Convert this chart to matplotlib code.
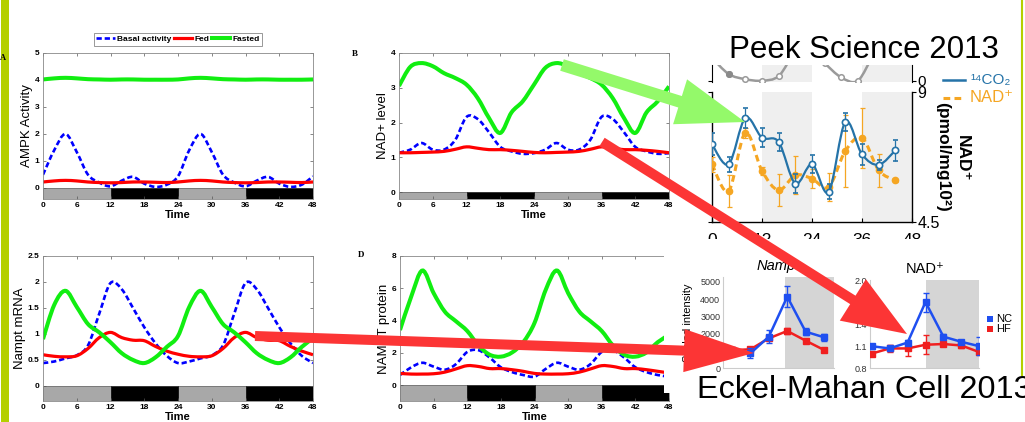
import matplotlib
matplotlib.use("Agg")
import matplotlib.pyplot as plt
from matplotlib.path import Path
from matplotlib.patches import PathPatch, Rectangle, FancyArrow
from matplotlib.lines import Line2D

plt.rcParams["font.family"] = ["Liberation Sans", "DejaVu Sans"]

W, H = 1025, 422

# model panels, values every 2 h
hours = list(range(0, 49, 2))
ampk_basal = [0.49, 1.40, 2.00, 1.33, 0.49, 0.20, 0.06, 0.27, 0.41, 0.16, 0.04, 0.12, 0.43,
              1.40, 2.00, 1.33, 0.49, 0.20, 0.06, 0.27, 0.41, 0.16, 0.04, 0.12, 0.43]
ampk_fed = [0.22, 0.26, 0.28, 0.26, 0.22, 0.20, 0.19, 0.20, 0.22, 0.22, 0.21, 0.20, 0.22,
            0.26, 0.28, 0.26, 0.22, 0.20, 0.19, 0.20, 0.22, 0.22, 0.21, 0.20, 0.22]
ampk_fasted = [4.02, 4.06, 4.08, 4.06, 4.03, 4.02, 4.01, 4.02, 4.02, 4.01, 4.01, 4.01, 4.02,
               4.06, 4.08, 4.06, 4.03, 4.02, 4.01, 4.02, 4.02, 4.01, 4.01, 4.01, 4.02]

nad_basal = [1.13, 1.22, 1.41, 1.22, 1.22, 1.50, 2.16, 2.10, 1.72, 1.30, 1.17, 1.10, 1.12,
             1.22, 1.41, 1.22, 1.22, 1.50, 2.16, 2.10, 1.72, 1.30, 1.17, 1.10, 1.12]
nad_fed = [1.13, 1.13, 1.14, 1.15, 1.17, 1.23, 1.30, 1.26, 1.22, 1.22, 1.20, 1.17, 1.14,
           1.13, 1.14, 1.15, 1.17, 1.23, 1.30, 1.26, 1.22, 1.22, 1.20, 1.17, 1.13]
nad_fasted = [3.05, 3.60, 3.71, 3.62, 3.42, 3.28, 3.09, 2.70, 2.13, 1.70, 2.29, 2.61, 3.09,
              3.57, 3.71, 3.62, 3.42, 3.28, 3.09, 2.70, 2.13, 1.70, 2.29, 2.61, 3.04]

mrna_basal = [0.44, 0.47, 0.53, 0.59, 0.78, 1.39, 1.98, 1.86, 1.50, 1.13, 0.82, 0.58, 0.44,
              0.47, 0.53, 0.59, 0.78, 1.39, 1.98, 1.86, 1.50, 1.13, 0.82, 0.58, 0.44]
mrna_fed = [0.60, 0.57, 0.56, 0.58, 0.72, 0.93, 1.03, 0.93, 0.88, 0.87, 0.76, 0.67, 0.61,
            0.57, 0.56, 0.58, 0.72, 0.93, 1.03, 0.93, 0.88, 0.87, 0.76, 0.67, 0.60]
mrna_fasted = [0.90, 1.56, 1.83, 1.52, 1.19, 1.03, 0.84, 0.63, 0.50, 0.44, 0.55, 0.75, 0.96,
               1.52, 1.83, 1.52, 1.19, 1.03, 0.84, 0.63, 0.50, 0.44, 0.55, 0.75, 0.92]

prot_basal = [0.62, 1.10, 1.38, 1.14, 0.95, 1.30, 2.05, 2.16, 1.70, 1.10, 0.80, 0.62, 0.52,
              1.00, 1.38, 1.14, 0.95, 1.30, 2.05, 2.16, 1.70, 1.10, 0.80, 0.62, 0.52]
prot_fed = [0.72, 0.68, 0.68, 0.70, 0.80, 1.00, 1.20, 1.15, 1.02, 1.02, 0.95, 0.85, 0.72,
            0.68, 0.68, 0.70, 0.80, 1.00, 1.20, 1.15, 1.02, 1.02, 0.95, 0.85, 0.75]
prot_fasted = [3.41, 5.48, 7.10, 5.70, 4.55, 3.95, 3.35, 2.45, 1.88, 1.76, 2.02, 2.66, 3.85,
               5.90, 7.10, 5.70, 4.55, 3.95, 3.35, 2.45, 1.88, 1.76, 2.02, 2.66, 3.10]

# Peek et al. data
peek_t = [0, 4, 8, 12, 16, 20, 24, 28, 32, 36, 40, 44]
co2 = [7.19, 6.50, 8.10, 7.42, 7.27, 5.83, 6.50, 5.54, 7.96, 6.84, 6.48, 6.98]
co2_err = [0.38, 0.26, 0.36, 0.32, 0.32, 0.32, 0.32, 0.26, 0.32, 0.37, 0.18, 0.37]
peek_nad = [6.50, 5.57, 7.59, 6.27, 5.60, 6.12, 6.00, 5.71, 6.96, 7.41, 6.29, 5.94]
peek_nad_err = [0.26, 0.56, 0.17, 0.14, 0.55, 0.66, 0.32, 0.49, 1.24, 1.04, 0.58, 0.06]
gray_t = [0, 4, 8, 12, 16, 20, 24, 27, 31, 35, 39, 43]
gray_v = [0.90, 0.27, 0.07, 0.01, 0.19, 1.10, 1.20, 0.70, 0.14, 0.01, 1.00, 1.10]

# Eckel-Mahan et al. data
nampt_nc = [1000, 866, 1825, 4134, 2113, 1790]
nampt_nc_err = [250, 290, 360, 620, 190, 190]
nampt_hf = [1050, 1096, 1730, 2154, 1596, 1058]
nampt_hf_err = [100, 100, 100, 170, 100, 100]
nad_nc = [1.10, 1.07, 1.15, 1.70, 1.23, 1.16, 1.10]
nad_nc_err = [0.035, 0.03, 0.03, 0.13, 0.03, 0.03, 0.12]
nad_hf = [1.00, 1.07, 1.07, 1.12, 1.13, 1.11, 1.02]
nad_hf_err = [0.02, 0.05, 0.10, 0.13, 0.03, 0.03, 0.03]

BLUE, RED, GREEN = "#0000ff", "#ff0000", "#11ee11"


def box(l, t, r, b):
    return [l / W, 1 - b / H, (r - l) / W, (b - t) / H]


def smooth(x, y):
    pts = list(zip(x, y))
    verts, codes = [pts[0]], [Path.MOVETO]
    n = len(pts)
    for i in range(n - 1):
        p0 = pts[max(i - 1, 0)]
        p1, p2 = pts[i], pts[i + 1]
        p3 = pts[min(i + 2, n - 1)]
        c1 = (p1[0] + (p2[0] - p0[0]) / 6, p1[1] + (p2[1] - p0[1]) / 6)
        c2 = (p2[0] - (p3[0] - p1[0]) / 6, p2[1] - (p3[1] - p1[1]) / 6)
        verts += [c1, c2, p2]
        codes += [Path.CURVE4] * 3
    return Path(verts, codes)


def curve(ax, x, y, color, lw, dashes=None, z=2):
    p = PathPatch(smooth(x, y), fill=False, edgecolor=color, lw=lw,
                  capstyle="butt", zorder=z)
    if dashes:
        p.set_linestyle((0, dashes))
    ax.add_patch(p)


fig = plt.figure(figsize=(W / 100, H / 100), dpi=100)


def model_panel(rect, basal, fed, fasted, ylim, yticks, ylabels, ylabel):
    ax = fig.add_axes(box(*rect), zorder=1)
    ax.set_xlim(0, 48)
    ax.set_ylim(*ylim)
    curve(ax, hours, basal, BLUE, 1.9, dashes=(2.0, 1.1))
    curve(ax, hours, fed, RED, 2.3)
    curve(ax, hours, fasted, GREEN, 2.9)
    ax.broken_barh([(0, 12), (24, 12)], (ylim[0], -ylim[0]),
                   facecolors="#a8a8a8", edgecolors="#333333", lw=0.4)
    ax.broken_barh([(12, 12), (36, 12)], (ylim[0], -ylim[0]),
                   facecolors="black", edgecolors="black", lw=0.4)
    ax.set_xticks(range(0, 49, 6))
    ax.set_yticks(yticks)
    ax.set_yticklabels(ylabels)
    ax.tick_params(direction="in", top=True, right=True, length=2.5, width=0.5,
                   labelsize=6, pad=2.5, color="#555555")
    for lab in ax.get_xticklabels() + ax.get_yticklabels():
        lab.set_fontweight("bold")
    ax.set_xlabel("Time", fontsize=8, fontweight="bold", labelpad=0.5)
    ax.set_ylabel(ylabel, fontsize=9.5, labelpad=1.5)
    for s in ax.spines.values():
        s.set_color("#888888")
        s.set_linewidth(0.6)
    return ax


axA = model_panel((43, 53, 313, 199), ampk_basal, ampk_fed, ampk_fasted,
                  (-0.41, 5), range(6), [str(v) for v in range(6)], "AMPK Activity")
model_panel((399, 53, 669, 199), nad_basal, nad_fed, nad_fasted,
            (-0.2, 4), range(5), [str(v) for v in range(5)], "NAD+ level")
model_panel((43, 256, 313, 401), mrna_basal, mrna_fed, mrna_fasted,
            (-0.29, 2.5), [0, 0.5, 1, 1.5, 2, 2.5], ["0", "0.5", "1", "1.5", "2", "2.5"],
            "Nampt mRNA")
model_panel((400, 256, 669, 401), prot_basal, prot_fed, prot_fasted,
            (-0.99, 8), [0, 2, 4, 6, 8], ["0", "2", "4", "6", "8"], "NAMPT protein")

handles = [Line2D([], [], color=BLUE, lw=1.9, ls=(0, (2.0, 1.1))),
           Line2D([], [], color=RED, lw=2.3),
           Line2D([], [], color=GREEN, lw=2.9)]
leg = axA.legend(handles, ["Basal activity", "Fed", "Fasted"], ncol=3,
                 loc="lower center", bbox_to_anchor=(0.5, 1.02),
                 prop={"weight": "bold", "size": 6}, handlelength=2.2,
                 handletextpad=0.25, columnspacing=0.35, borderpad=0.3,
                 fancybox=False, edgecolor="#888888", framealpha=1)
leg.get_frame().set_linewidth(0.6)

# Peek Science 2013 panel
pk = fig.add_axes(box(712, 92, 912, 222), zorder=2)
pk.set_xlim(0, 48)
pk.set_ylim(4.5, 9)
pk.patch.set_alpha(0)
for a, b in [(12, 24), (36, 48)]:
    pk.axvspan(a, b, color="#efefef", lw=0, zorder=0)
ORANGE, TEAL = "#f5a623", "#2573a8"
curve(pk, peek_t, peek_nad, ORANGE, 2.2, dashes=(2.2, 1.4), z=2)
pk.errorbar(peek_t, peek_nad, yerr=peek_nad_err, fmt="o", color=ORANGE, ms=4.5,
            elinewidth=0.9, capsize=1.8, capthick=0.9, zorder=3)
curve(pk, peek_t, co2, TEAL, 1.6, z=4)
pk.errorbar(peek_t, co2, yerr=co2_err, fmt="o", color=TEAL, mfc="white", mec=TEAL,
            mew=1.2, ms=4.5, elinewidth=0.9, capsize=1.8, capthick=0.9, zorder=5)
pk.spines["top"].set_visible(False)
pk.set_xticks([0, 12, 24, 36, 48])
pk.set_yticks([4.5, 9])
pk.set_yticklabels(["4.5", "9"])
pk.tick_params(axis="y", left=True, right=True, labelleft=False, labelright=True,
               direction="out", length=3, labelsize=11.5, pad=1)
pk.tick_params(axis="x", direction="in", length=3, labelsize=12.5, pad=8)
for s in pk.spines.values():
    s.set_linewidth(1.0)

pu = fig.add_axes(box(712, 65, 912, 82), zorder=2)
pu.set_xlim(0, 48)
pu.set_ylim(-0.04, 0.62)
pu.patch.set_alpha(0)
for a, b in [(12, 24), (36, 48)]:
    pu.axvspan(a, b, color="#efefef", lw=0, zorder=0)
curve(pu, gray_t, gray_v, "#9a9a9a", 1.8, z=2)
pu.plot(gray_t, gray_v, "o", ms=4, mfc="white", mec="#9a9a9a", mew=1.1, zorder=3)
pu.plot(gray_t[1:2], gray_v[1:2], "o", ms=4, color="#8a8a8a", zorder=4)
pu.spines["top"].set_visible(False)
pu.spines["bottom"].set_visible(False)
pu.set_xticks([])
pu.set_yticks([0])
pu.set_yticklabels(["0"])
pu.tick_params(axis="y", left=True, right=True, labelleft=False, labelright=True,
               direction="out", length=3, labelsize=11, pad=1)

# white area under the Eckel-Mahan picture
cover = fig.add_axes([0, 0, 1, 1], zorder=3)
cover.set_xlim(0, W)
cover.set_ylim(H, 0)
cover.axis("off")
cover.add_patch(Rectangle((664, 238.5), 357, 154.5, fc="white", ec="none"))

# Eckel-Mahan Cell 2013 panels
NC, HF, SHADE = "#1f4ff0", "#f01f1f", "#d5d5d5"
ax1 = fig.add_axes(box(723, 277.3, 834, 368.3), zorder=4)
ax1.patch.set_alpha(0)
ax1.set_xlim(-0.49, 5.54)
ax1.set_ylim(0, 5254)
ax1.axvspan(2.88, 5.54, color=SHADE, lw=0, zorder=0)
idx6 = range(len(nampt_nc))
ax1.errorbar(idx6, nampt_hf, yerr=nampt_hf_err, color=HF, lw=1.8, marker="s", ms=4,
             elinewidth=1, capsize=2.5, zorder=3)
ax1.errorbar(idx6, nampt_nc, yerr=nampt_nc_err, color=NC, lw=1.8, marker="s", ms=4,
             elinewidth=1, capsize=2.5, zorder=4)
ax1.set_xticks([])
ax1.set_yticks(range(0, 5001, 1000))
ax1.set_yticklabels(["0", "1000", "2000", "3000", "4000", "5000"])
ax1.set_title("Nampt", fontsize=10.5, style="italic", pad=5)
ax1.set_ylabel("Scaled intensity", fontsize=8, labelpad=5)

ax2 = fig.add_axes(box(870, 280, 979.3, 368.3), zorder=4)
ax2.patch.set_alpha(0)
ax2.set_xlim(-0.095, 6.0)
ax2.set_ylim(0.8, 2.0)
ax2.axvspan(3.03, 6.0, color=SHADE, lw=0, zorder=0)
idx7 = range(len(nad_nc))
ax2.errorbar(idx7, nad_hf, yerr=nad_hf_err, color=HF, lw=1.8, marker="s", ms=4,
             elinewidth=1, capsize=2.5, zorder=3)
ax2.errorbar(idx7, nad_nc, yerr=nad_nc_err, color=NC, lw=1.8, marker="s", ms=4,
             elinewidth=1, capsize=2.5, zorder=4)
ax2.set_xticks([])
ax2.set_yticks([0.8, 1.1, 1.4, 1.7, 2.0])
ax2.set_yticklabels(["0.8", "1.1", "1.4", "1.7", "2.0"])
ax2.set_title("NAD\u207a", fontsize=10.5, pad=5)

for ax in (ax1, ax2):
    for side in ("top", "right"):
        ax.spines[side].set_visible(False)
    for side in ("left", "bottom"):
        ax.spines[side].set_color("#cccccc")
        ax.spines[side].set_linewidth(0.8)
    ax.tick_params(length=0, labelsize=6.5, pad=2, labelcolor="#333333")

# overlay: arrows, captions, slide decoration
ov = fig.add_axes([0, 0, 1, 1], zorder=10)
ov.set_xlim(0, W)
ov.set_ylim(H, 0)
ov.axis("off")

ov.add_patch(FancyArrow(562, 65, 745 - 562, 122 - 65, width=12, head_width=47,
                        head_length=68, length_includes_head=True,
                        fc="#94f96a", ec="none"))
ov.add_patch(FancyArrow(602, 142, 907 - 602, 334 - 142, width=10, head_width=49,
                        head_length=64, length_includes_head=True,
                        fc="#fc3535", ec="none"))
ov.add_patch(FancyArrow(255, 336, 754 - 255, 353 - 336, width=10, head_width=43,
                        head_length=70, length_includes_head=True,
                        fc="#fc3535", ec="none"))

ov.text(729, 58, "Peek Science 2013", fontsize=22.5, ha="left", va="baseline")
ov.text(697, 398, "Eckel-Mahan Cell 2013", fontsize=23.3, ha="left", va="baseline")

# Peek legend and axis label
ov.add_line(Line2D([943, 965], [80, 80], color=TEAL, lw=1.8))
ov.text(970, 80, "\u00b9\u2074CO\u2082", color=TEAL, fontsize=11, va="center")
ov.add_line(Line2D([943, 965], [98, 98], color=ORANGE, lw=2.2, ls=(0, (2.2, 1.4))))
ov.text(970, 98, "NAD\u207a", color=ORANGE, fontsize=12, va="center")
ov.text(962, 158, "NAD\u207a", fontsize=12.5, fontweight="bold", rotation=270,
        ha="center", va="center")
ov.text(943, 157, "(pmol/mg10\u00b2)", fontsize=12.5, fontweight="bold", rotation=270,
        ha="center", va="center")

# Eckel legend
ov.add_patch(Rectangle((987, 316), 6, 6, fc=NC, ec="none"))
ov.text(996, 319, "NC", fontsize=8, va="center")
ov.add_patch(Rectangle((987, 326), 6, 6, fc=HF, ec="none"))
ov.text(996, 329.5, "HF", fontsize=8, va="center")

# panel letters
ov.text(354.5, 54, "B", fontsize=6.5, family="Liberation Serif", fontweight="bold",
        ha="center", va="center")
ov.text(361.5, 255, "D", fontsize=6.5, family="Liberation Serif", fontweight="bold",
        ha="center", va="center")
ov.text(2.5, 58, "A", fontsize=6, family="Liberation Serif", fontweight="bold",
        ha="center", va="center")

ov.add_patch(Rectangle((1, 0), 8, H, fc="#b4cf00", ec="none"))
ov.add_line(Line2D([1022, 1022], [0, 375], color="#b4cf00", lw=1.5))

fig.savefig("out.png", dpi=100)
